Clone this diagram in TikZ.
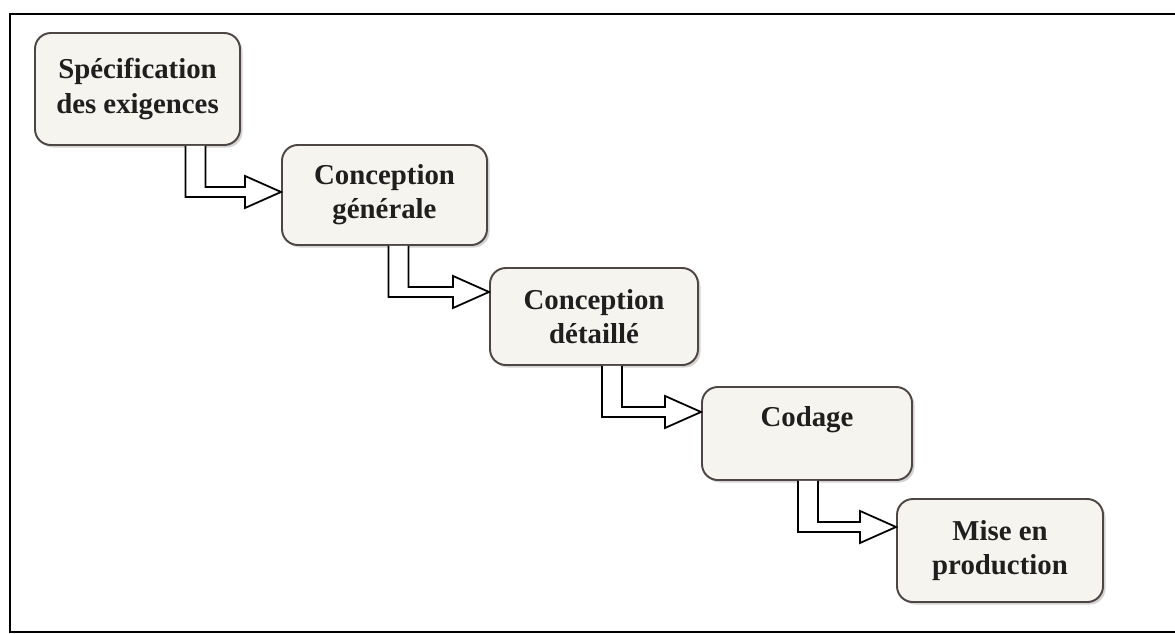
\documentclass[tikz,border=0pt]{standalone}
\usepackage{fontspec}
\setmainfont{Liberation Serif}
\usepackage{tikz}
\usetikzlibrary{calc,shadows}
\definecolor{boxfill}{RGB}{246,244,239}
\definecolor{boxedge}{RGB}{78,70,68}
\tikzset{
  phase/.style={rectangle, rounded corners=9pt, draw=boxedge, line width=1.1pt, fill=boxfill,
                minimum width=4.1cm, minimum height=2.0cm, align=center, text=black!88,
                font=\fontsize{16.4}{19.5}\selectfont\bfseries,
                drop shadow={opacity=0.35, shadow xshift=0.05cm, shadow yshift=-0.05cm}},
  hollow/.style={draw=black, line width=1.0pt, fill=white, line join=miter},
  frame/.style={draw=black, line width=1.1pt},
}
% hollow L-shaped arrow: from the bottom of #1 down, then right into #2;
% #3 is the shaft offset from the centre of #1 (cm)
\newcommand{\steparrow}[3]{%
  \coordinate (tip) at (#2.west |- {$(#1.south)+(0,-0.92)$});
  \coordinate (top) at ($(#1.south)+(#3,0)$);
  \draw[hollow] ($(top)+(-0.2,0)$) -- ($(top |- tip)+(-0.2,-0.1)$)
    -- ($(tip)+(-0.72,-0.1)$) -- ($(tip)+(-0.72,-0.32)$) -- (tip)
    -- ($(tip)+(-0.72,0.32)$) -- ($(tip)+(-0.72,0.1)$)
    -- ($(top |- tip)+(0.2,0.1)$) -- ($(top)+(0.2,0)$);
}
\begin{document}
\begin{tikzpicture}
\useasboundingbox (0,0) rectangle (23.5,-12.66);

% ===================== frame (open on the right) =========================
\draw[frame] (23.6,-0.28) -- (0.2,-0.28) -- (0.2,-12.64) -- (23.6,-12.64);

% ===================== the five phases ===================================
\node[phase, minimum height=2.24cm] (spec) at (2.75,-1.78) {Spécification\\des exigences};
\node[phase] (cgen) at (7.69,-3.90) {Conception\\générale};
\node[phase, minimum width=4.16cm, minimum height=1.94cm] (cdet) at (11.88,-6.33) {Conception\\détaillé};
\node[phase, minimum width=4.2cm, minimum height=1.86cm] (code) at (16.14,-8.67) {Codage\\~};
\node[phase, minimum width=4.12cm, minimum height=2.06cm] (prod) at (20.0,-11.01) {Mise en\\production};

% ===================== hollow arrows between phases ======================
\steparrow{spec}{cgen}{1.16}
\steparrow{cgen}{cdet}{0.28}
\steparrow{cdet}{code}{0.36}
\steparrow{code}{prod}{0.02}

\end{tikzpicture}
\end{document}
